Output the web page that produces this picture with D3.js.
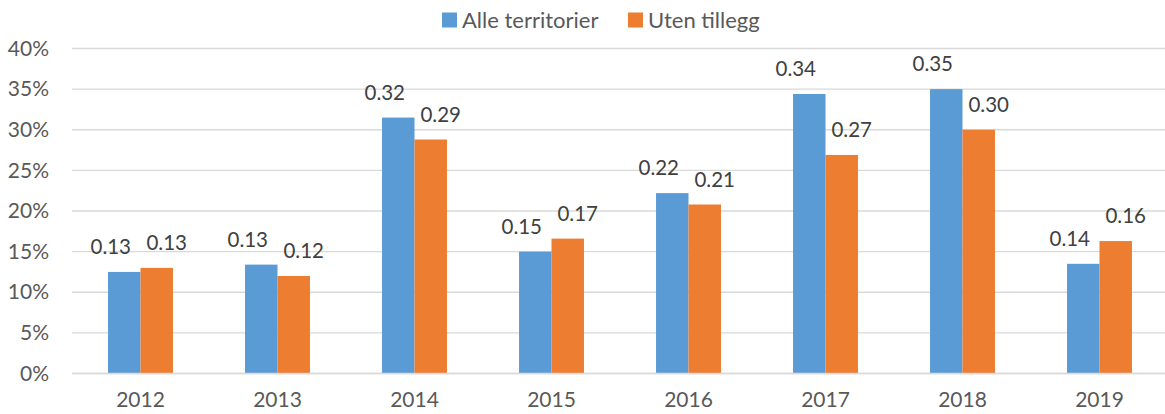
<!DOCTYPE html>
<html><head><meta charset="utf-8">
<script src="https://cdn.jsdelivr.net/npm/d3@7"></script>
<style>body{margin:0;background:#fff;} svg{display:block;font-family:Lato,"Open Sans",sans-serif;}</style>
</head><body><svg id="c" width="1165" height="414"></svg>
<script>
const categories = ["2012","2013","2014","2015","2016","2017","2018","2019"];
const seriesNames = ["Alle territorier","Uten tillegg"];
const alleTerritorier = [0.125,0.134,0.315,0.150,0.222,0.344,0.350,0.135];
const utenTillegg = [0.130,0.120,0.288,0.166,0.208,0.269,0.300,0.163];
const yTicks = [0,0.05,0.10,0.15,0.20,0.25,0.30,0.35,0.40];
const colors = ["#5B9BD5","#ED7D31"];

(function(){
const seriesValues = [alleTerritorier, utenTillegg];
const svg = d3.select("#c");
const pLeft = 72, pRight = 1168, pTop = 48.5, pBottom = 373.5;

const x0 = d3.scaleBand().domain(categories).range([pLeft,pRight]).paddingInner(0.526).paddingOuter(0.263);
const x1 = d3.scaleBand().domain(seriesNames).range([0,x0.bandwidth()]);
const y = d3.scaleLinear().domain([0,0.40]).range([pBottom,pTop]);

// gridlines
svg.append("g").selectAll("line").data(yTicks).join("line")
  .attr("x1",pLeft).attr("x2",pRight)
  .attr("y1",d=>y(d)).attr("y2",d=>y(d))
  .attr("stroke","#d9d9d9").attr("stroke-width",1.3);

// y axis labels
const yAxis = d3.axisLeft(y).tickValues(yTicks).tickFormat(d3.format(".0%")).tickSize(0).tickPadding(0);
const ya = svg.append("g").attr("transform",`translate(49,0)`).call(yAxis);
ya.select(".domain").remove();
ya.selectAll("text").attr("font-size",21).attr("fill","#595959").attr("font-family","Lato");

// x axis labels
const xAxis = d3.axisBottom(x0).tickSize(0).tickPadding(0);
const xa = svg.append("g").attr("transform",`translate(0,${pBottom+19})`).call(xAxis);
xa.select(".domain").remove();
xa.selectAll("text").attr("font-size",21).attr("fill","#595959").attr("font-family","Lato");

// bars
const flat = [];
categories.forEach((c,i)=>seriesNames.forEach((s,j)=>flat.push({c,s,j,v:seriesValues[j][i]})));
svg.append("g").selectAll("rect").data(flat).join("rect")
  .attr("x",d=>x0(d.c)+x1(d.s))
  .attr("width",x1.bandwidth())
  .attr("y",d=>y(d.v))
  .attr("height",d=>pBottom-y(d.v))
  .attr("fill",d=>colors[d.j]);

// baseline
svg.append("line").attr("x1",pLeft).attr("x2",pRight).attr("y1",pBottom).attr("y2",pBottom)
  .attr("stroke","#d9d9d9").attr("stroke-width",1.3);

// data labels
const labelDx = [-13.5, 10];
svg.append("g").selectAll("text").data(flat).join("text")
  .attr("x",d=>x0(d.c)+x1(d.s)+x1.bandwidth()/2+labelDx[d.j])
  .attr("y",d=>y(d.v)-25)
  .attr("dy","0.35em")
  .attr("text-anchor","middle")
  .attr("font-size",20.5).attr("fill","#404040")
  .text(d=>d3.format(".2f")(d.v));

// legend
const legX = [442, 628];
const lg = svg.append("g").selectAll("g").data(seriesNames).join("g")
  .attr("transform",(d,i)=>`translate(${legX[i]},0)`);
lg.append("rect").attr("x",0).attr("y",12.5).attr("width",15).attr("height",15).attr("fill",(d,i)=>colors[i]);
lg.append("text").attr("x",20).attr("y",20).attr("dy","0.35em").attr("font-size",22).attr("fill","#595959").text(d=>d);
})();
</script></body></html>
